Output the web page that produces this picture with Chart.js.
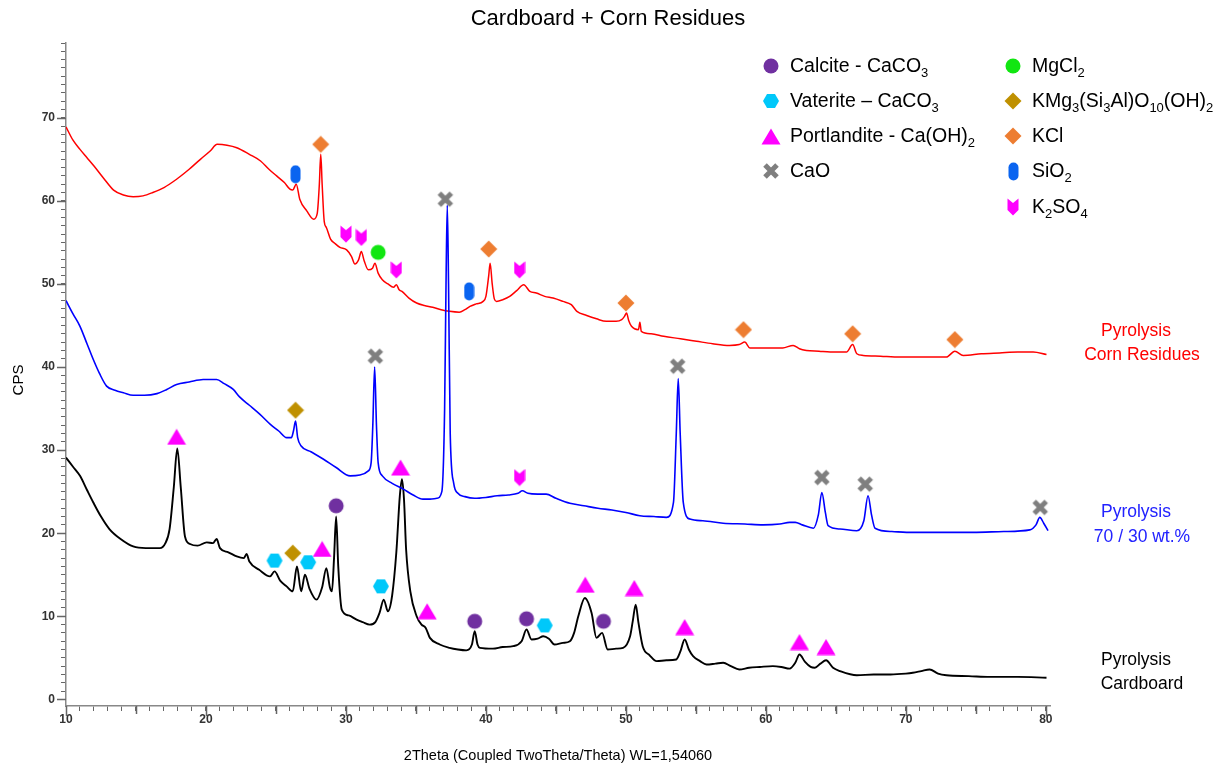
<!DOCTYPE html>
<html>
<head>
<meta charset="utf-8">
<script src="https://cdn.jsdelivr.net/npm/chart.js@4.4.0/dist/chart.umd.min.js"></script>
<style>
  html, body { margin: 0; padding: 0; background: #fff; }
  #wrap { width: 1232px; height: 767px; }
</style>
</head>
<body>
<div id="wrap"><canvas id="xrd" width="1232" height="767"></canvas></div>
<script>
// 2Theta / CPS pairs
var cornResidues = [
  [10.0,68.9],[10.5,67.3],[11.0,66.2],[11.5,65.2],[12.0,64.2],[12.7,62.7],[13.4,61.3],[14.1,60.7],
  [14.8,60.5],[15.5,60.6],[16.2,61.0],[17.0,61.6],[17.9,62.6],[18.8,63.8],[19.6,65.0],[20.3,66.0],
  [20.8,66.8],[21.5,66.7],[22.2,66.4],[23.1,65.6],[23.9,64.8],[24.5,63.8],[25.05,63.0],[25.6,62.2],
  [26.0,61.4],[26.2,61.3],[26.45,62.0],[26.7,60.2],[27.2,58.8],[27.7,57.8],[27.95,58.5],[28.1,62.0],
  [28.2,65.6],[28.3,62.0],[28.45,57.5],[28.6,56.8],[28.9,55.4],[29.2,54.9],[29.57,54.4],[30.05,54.1],
  [30.4,53.3],[30.64,52.4],[30.9,52.9],[31.1,53.9],[31.3,52.8],[31.6,51.7],[31.9,51.9],[32.07,52.5],
  [32.3,51.3],[32.6,50.5],[33.0,50.0],[33.4,49.6],[33.6,49.9],[33.8,49.3],[34.0,49.1],[34.5,48.3],
  [35.05,47.7],[35.6,47.4],[36.2,47.2],[36.8,46.9],[37.4,46.7],[38.1,46.6],[38.5,46.9],[38.86,47.3],
  [39.3,47.6],[39.8,47.9],[40.0,48.5],[40.2,51.0],[40.3,52.5],[40.45,50.0],[40.6,48.2],[40.76,47.9],
  [41.2,48.1],[41.7,48.5],[42.2,49.2],[42.7,49.9],[43.14,49.1],[43.6,48.9],[44.2,48.5],[44.8,48.3],
  [45.5,47.9],[46.1,47.5],[46.5,46.7],[47.2,46.2],[47.9,45.8],[48.6,45.5],[49.3,45.5],[49.7,45.7],
  [49.9,46.1],[50.05,46.5],[50.2,45.6],[50.4,44.9],[50.9,44.5],[51.0,45.4],[51.1,44.3],[51.8,44.0],
  [52.7,43.7],[53.9,43.4],[55.05,43.1],[56.2,42.8],[57.4,42.6],[58.1,42.7],[58.5,43.0],[58.86,42.3],
  [60.0,42.3],[61.2,42.3],[61.95,42.6],[62.4,42.2],[62.9,42.0],[63.8,41.9],[64.6,41.8],[65.3,41.8],
  [65.76,41.8],[66.2,42.7],[66.5,41.6],[66.95,41.4],[68.2,41.3],[69.6,41.2],[71.3,41.2],[72.9,41.2],
  [73.5,41.9],[74.1,41.4],[75.4,41.6],[76.7,41.7],[78.0,41.8],[79.1,41.8],[80.05,41.5]
];
var mix7030 = [
  [10.0,48.0],[10.5,46.4],[11.0,44.9],[11.5,42.8],[11.95,40.9],[12.4,39.2],[12.9,37.7],[13.5,37.2],
  [14.1,36.9],[14.8,36.6],[15.6,36.6],[16.5,36.8],[17.2,37.3],[17.9,37.9],[18.8,38.2],[19.8,38.5],
  [20.76,38.5],[21.3,38.0],[21.95,37.3],[22.4,36.4],[23.1,35.4],[23.86,34.3],[24.6,33.1],[25.2,32.3],
  [25.76,31.5],[26.1,31.5],[26.25,32.3],[26.4,33.5],[26.55,31.5],[26.8,30.5],[27.5,29.8],[28.4,28.9],
  [29.3,27.9],[30.3,26.9],[31.0,27.0],[31.6,27.5],[31.8,28.5],[31.92,33.0],[32.05,40.0],[32.18,33.0],
  [32.3,28.5],[32.6,26.9],[33.3,26.0],[34.1,25.3],[34.8,24.6],[35.5,24.1],[36.0,24.1],[36.5,24.2],
  [36.85,25.0],[37.05,35.0],[37.15,50.0],[37.24,59.5],[37.33,50.0],[37.45,32.0],[37.7,26.0],[38.0,24.8],
  [38.5,24.4],[39.2,24.2],[40.0,24.3],[40.8,24.5],[41.6,24.6],[42.3,24.8],[42.6,25.1],[43.0,24.8],
  [43.7,24.7],[44.3,24.7],[45.0,24.2],[46.0,23.6],[47.0,23.3],[48.0,23.0],[49.0,22.8],[50.0,22.5],
  [51.0,22.1],[52.0,22.0],[52.9,21.9],[53.4,23.7],[53.6,32.0],[53.74,38.6],[53.88,32.0],[54.1,23.7],
  [54.57,21.7],[55.5,21.5],[56.95,21.2],[58.5,21.1],[59.8,21.0],[61.0,21.1],[61.7,21.3],[62.1,21.3],
  [62.6,21.0],[63.4,20.6],[63.75,22.2],[64.0,24.9],[64.25,22.5],[64.45,20.9],[65.3,20.5],[66.5,20.3],
  [67.0,21.5],[67.3,24.5],[67.55,22.2],[67.8,20.6],[69.0,20.2],[70.05,20.1],[72.0,20.1],[74.8,20.1],
  [77.0,20.2],[78.86,20.4],[79.3,21.0],[79.57,21.9],[79.85,21.2],[80.16,20.3]
];
var cardboard = [
  [10.0,29.1],[10.5,28.0],[11.0,26.9],[11.5,25.2],[11.95,23.7],[12.5,22.0],[13.1,20.5],[13.9,19.3],
  [14.8,18.4],[15.7,18.2],[16.7,18.2],[17.1,18.8],[17.4,20.5],[17.7,25.5],[17.95,30.2],[18.2,25.5],
  [18.5,19.6],[18.86,18.7],[19.4,18.5],[20.05,18.9],[20.5,18.8],[20.76,19.3],[21.0,18.2],[21.6,17.7],
  [22.2,17.2],[22.7,17.0],[22.9,17.5],[23.1,16.6],[23.8,15.6],[24.57,14.8],[24.9,15.4],[25.3,14.3],
  [25.76,13.6],[26.2,13.0],[26.5,16.0],[26.8,13.0],[27.07,15.0],[27.4,13.3],[27.9,12.0],[28.3,13.5],
  [28.6,15.8],[28.85,13.5],[29.0,13.0],[29.15,17.0],[29.3,22.0],[29.45,16.0],[29.7,10.8],[30.2,10.1],
  [30.76,9.6],[31.2,9.3],[31.7,9.0],[32.1,9.3],[32.4,10.4],[32.7,12.0],[33.0,10.6],[33.3,12.5],
  [33.6,17.7],[33.85,24.5],[34.0,26.5],[34.15,24.0],[34.3,18.0],[34.6,13.0],[35.05,10.0],[35.4,9.0],
  [35.7,8.6],[36.0,7.4],[36.7,6.6],[37.4,6.2],[38.0,6.0],[38.6,5.9],[39.0,6.6],[39.2,8.2],
  [39.4,6.6],[39.57,6.2],[40.5,6.1],[41.2,6.3],[41.95,6.4],[42.55,7.0],[42.9,8.4],[43.26,7.2],
  [43.7,7.3],[44.1,7.6],[44.5,7.3],[44.9,6.6],[45.5,6.8],[46.0,7.0],[46.3,8.0],[46.6,10.0],
  [47.07,12.2],[47.55,10.4],[47.9,7.4],[48.3,8.0],[48.7,6.0],[49.3,6.1],[49.8,6.2],[50.3,7.6],
  [50.5,9.5],[50.7,11.4],[50.9,9.2],[51.2,6.4],[51.7,5.3],[52.2,4.6],[52.9,4.7],[53.6,4.8],
  [53.9,5.8],[54.2,7.2],[54.5,6.0],[54.8,5.2],[55.3,4.6],[55.76,4.2],[56.4,4.3],[56.95,4.4],
  [57.5,4.0],[58.1,3.6],[58.8,3.8],[59.57,3.9],[60.5,4.0],[61.1,3.9],[61.7,3.7],[62.1,4.4],
  [62.4,5.4],[62.8,4.5],[63.2,3.9],[63.5,3.8],[63.9,4.3],[64.3,4.7],[64.8,3.8],[65.3,3.4],
  [66.5,2.9],[67.7,3.0],[68.9,3.0],[70.0,3.1],[70.5,3.2],[71.1,3.4],[71.7,3.6],[72.3,3.1],
  [72.9,2.9],[74.5,2.8],[76.0,2.7],[78.0,2.7],[80.05,2.6]
];

// phase markers: [2Theta, CPS] where each symbol sits above its peak
var calcite = [[29.3,23.3],[39.2,9.4],[42.9,9.7],[48.4,9.4]];
var vaterite = [[24.9,16.7],[27.3,16.5],[32.5,13.6],[44.2,8.9]];
var portlandite = [[17.9,31.6],[28.3,18.1],[33.9,27.9],[35.8,10.6],[47.1,13.8],[50.6,13.4],[54.2,8.7],[62.4,6.9],[64.3,6.3]];
var caO = [[32.1,41.3],[37.1,60.2],[53.7,40.1],[64.0,26.7],[67.1,25.9],[79.6,23.1]];
var mgCl2 = [[32.3,53.8]];
var mica = [[26.2,17.6],[26.4,34.8]];
var kCl = [[28.2,66.8],[40.2,54.2],[50.0,47.7],[58.4,44.5],[66.2,44.0],[73.5,43.3]];
var siO2 = [[26.4,63.2],[38.8,49.1]];
var k2SO4 = [[30.0,56.0],[31.1,55.6],[33.6,51.7],[42.4,51.7],[42.4,26.7]];

var phaseNames = ['Calcite - CaCO_3', 'Vaterite \u2013 CaCO_3', 'Portlandite - Ca(OH)_2', 'CaO',
                  'MgCl_2', 'KMg_3(Si_3Al)O_10(OH)_2', 'KCl', 'SiO_2', 'K_2SO_4'];
var seriesNames = [['Pyrolysis', 'Corn Residues'], ['Pyrolysis', '70 / 30 wt.%'], ['Pyrolysis', 'Cardboard']];

var FONT = '"Liberation Sans", Arial, sans-serif';

// little canvases used as point styles and in the legend
function makeMarker(kind, color) {
  var c = document.createElement('canvas');
  var w = 18, h = 18;
  if (kind === 'capsule') { w = 11; h = 19; }
  if (kind === 'chevron') { w = 12; h = 18; }
  if (kind === 'triangle') { w = 20; h = 17; }
  c.width = w; c.height = h;
  var g = c.getContext('2d');
  g.fillStyle = color; g.strokeStyle = color;
  g.beginPath();
  if (kind === 'circle') {
    g.arc(9, 9, 7.5, 0, Math.PI * 2);
    g.fill();
  } else if (kind === 'hexagon') {
    g.moveTo(1, 9); g.lineTo(5, 2); g.lineTo(13, 2); g.lineTo(17, 9); g.lineTo(13, 16); g.lineTo(5, 16);
    g.closePath(); g.fill();
  } else if (kind === 'triangle') {
    g.moveTo(10, 0.5); g.lineTo(19.5, 16.5); g.lineTo(0.5, 16.5); g.closePath(); g.fill();
  } else if (kind === 'cross') {
    g.lineWidth = 5;
    g.moveTo(3, 3); g.lineTo(15, 15); g.moveTo(15, 3); g.lineTo(3, 15);
    g.stroke();
  } else if (kind === 'diamond') {
    g.moveTo(9, 0.5); g.lineTo(17.5, 9); g.lineTo(9, 17.5); g.lineTo(0.5, 9); g.closePath(); g.fill();
  } else if (kind === 'capsule') {
    g.arc(5.5, 5.5, 5, Math.PI, 0);
    g.lineTo(10.5, 13.5);
    g.arc(5.5, 13.5, 5, 0, Math.PI);
    g.closePath(); g.fill();
  } else if (kind === 'chevron') {
    g.moveTo(0.5, 0.5); g.lineTo(6, 5); g.lineTo(11.5, 0.5); g.lineTo(11.5, 12); g.lineTo(6, 17.5); g.lineTo(0.5, 12);
    g.closePath(); g.fill();
  }
  return c;
}

var markers = [
  makeMarker('circle', '#7030A0'),
  makeMarker('hexagon', '#00C8FA'),
  makeMarker('triangle', '#FF00FF'),
  makeMarker('cross', '#7F7F7F'),
  makeMarker('circle', '#11E611'),
  makeMarker('diamond', '#BF9000'),
  makeMarker('diamond', '#ED7D31'),
  makeMarker('capsule', '#0A64F0'),
  makeMarker('chevron', '#FF00FF')
];
var phaseData = [calcite, vaterite, portlandite, caO, mgCl2, mica, kCl, siO2, k2SO4];

function toXY(arr) {
  return arr.map(function (p) { return { x: p[0], y: p[1] }; });
}

// text with _digits as subscripts
function drawRich(ctx, str, x, y, size) {
  var parts = str.split(/_(\d+)/);
  ctx.textAlign = 'left';
  ctx.textBaseline = 'middle';
  for (var i = 0; i < parts.length; i++) {
    if (!parts[i]) continue;
    if (i % 2 === 0) {
      ctx.font = size + 'px ' + FONT;
      ctx.fillText(parts[i], x, y);
    } else {
      ctx.font = Math.round(size * 0.68) + 'px ' + FONT;
      ctx.fillText(parts[i], x, y + size * 0.33);
    }
    x += ctx.measureText(parts[i]).width;
  }
}

var datasets = [];
phaseData.forEach(function (d, i) {
  datasets.push({
    label: phaseNames[i],
    data: toXY(d),
    pointStyle: markers[i],
    pointRadius: 8,
    showLine: false,
    order: 0
  });
});
var lineColors = ['#0000FF', '#FF0000', '#000000'];
var lineWidths = [1.6, 1.5, 1.9];
[mix7030, cornResidues, cardboard].forEach(function (d, i) {
  datasets.push({
    label: ['70/30', 'corn', 'cardboard'][i],
    data: toXY(d),
    showLine: true,
    borderColor: lineColors[i],
    borderWidth: lineWidths[i],
    pointRadius: 0,
    cubicInterpolationMode: 'monotone',
    order: 1
  });
});

// longer marks on the labelled ticks, like the instrument software draws them
var majorTicks = {
  id: 'majorTicks',
  afterDraw: function (chart) {
    var ctx = chart.ctx, xs = chart.scales.x, ys = chart.scales.y;
    ctx.save();
    ctx.strokeStyle = '#666';
    ctx.lineWidth = 1.5;
    ctx.beginPath();
    xs.ticks.forEach(function (t) {
      if (t.value % 5 !== 0) return;
      var px = Math.round(xs.getPixelForValue(t.value)) + 0.5;
      ctx.moveTo(px, xs.top);
      ctx.lineTo(px, xs.top + (t.value % 10 === 0 ? 10 : 8));
    });
    ys.ticks.forEach(function (t) {
      if (t.value % 10 !== 0) return;
      var py = Math.round(ys.getPixelForValue(t.value)) + 0.5;
      ctx.moveTo(ys.right, py);
      ctx.lineTo(ys.right - 9, py);
    });
    ctx.stroke();
    ctx.restore();
  }
};

var decorations = {
  id: 'decorations',
  afterDraw: function (chart) {
    var ctx = chart.ctx;
    ctx.save();
    ctx.fillStyle = '#000';
    ctx.textAlign = 'center';
    ctx.textBaseline = 'middle';
    ctx.font = '22px ' + FONT;
    ctx.fillText('Cardboard + Corn Residues', 608, 19);

    ctx.font = '14.5px ' + FONT;
    ctx.fillText('2Theta (Coupled TwoTheta/Theta) WL=1,54060', 558, 756);

    ctx.save();
    ctx.translate(19, 380);
    ctx.rotate(-Math.PI / 2);
    ctx.font = '15px ' + FONT;
    ctx.fillText('CPS', 0, 0);
    ctx.restore();

    // series labels at the right
    var labelColors = ['#FF0000', '#2222FF', '#000000'];
    var labelY = [[331, 355], [512, 537], [660, 684]];
    ctx.font = '17.5px ' + FONT;
    for (var s = 0; s < 3; s++) {
      ctx.fillStyle = labelColors[s];
      ctx.fillText(seriesNames[s][0], 1136, labelY[s][0]);
      ctx.fillText(seriesNames[s][1], 1142, labelY[s][1]);
    }

    // legend in two columns
    ctx.fillStyle = '#000';
    var rows = [66, 101, 136, 171, 207];
    for (var i = 0; i < phaseNames.length; i++) {
      var col = i < 4 ? 0 : 1;
      var r = i < 4 ? i : i - 4;
      var mx = col === 0 ? 771 : 1013;
      var m = markers[i];
      ctx.drawImage(m, Math.round(mx - m.width / 2), Math.round(rows[r] - m.height / 2));
      drawRich(ctx, phaseNames[i], mx + 19, rows[r] + 1, 19.5);
    }
    ctx.restore();
  }
};

function tickLabel(v) {
  return v % 10 === 0 ? v : '';
}

new Chart(document.getElementById('xrd'), {
  type: 'scatter',
  data: { datasets: datasets },
  options: {
    responsive: false,
    animation: false,
    layout: { padding: { left: 0, right: 182, top: 43, bottom: 0 } },
    plugins: {
      legend: { display: false },
      tooltip: { enabled: false },
      title: { display: false }
    },
    scales: {
      x: {
        type: 'linear',
        min: 10,
        max: 80.3,
        afterFit: function (scale) { scale.height = 61; },
        border: { display: true, color: '#888', width: 1.5 },
        grid: { drawOnChartArea: false, drawTicks: true, tickLength: 5, tickColor: '#666', tickWidth: 1 },
        ticks: {
          stepSize: 1, autoSkip: false, maxRotation: 0, includeBounds: false,
          callback: tickLabel, color: '#333', padding: 1,
          font: { family: FONT, size: 12, weight: 'bold' }
        }
      },
      y: {
        type: 'linear',
        min: -0.8,
        max: 79,
        afterFit: function (scale) { scale.width = 66; },
        border: { display: true, color: '#888', width: 1.5 },
        grid: { drawOnChartArea: false, drawTicks: true, tickLength: 5, tickColor: '#666', tickWidth: 1 },
        ticks: {
          stepSize: 1, autoSkip: false, includeBounds: false,
          callback: tickLabel, color: '#333', padding: 6,
          font: { family: FONT, size: 12, weight: 'bold' }
        }
      }
    }
  },
  plugins: [majorTicks, decorations]
});
</script>
</body>
</html>
